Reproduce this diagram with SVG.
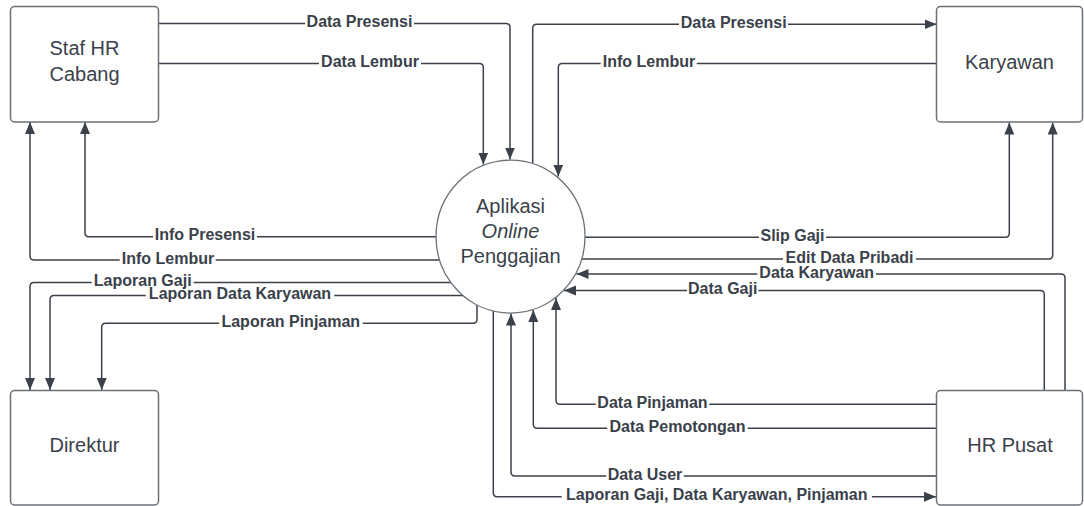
<svg xmlns="http://www.w3.org/2000/svg" width="1084" height="506" viewBox="0 0 1084 506">
<style>
.box{fill:#ffffff;stroke:#6c7179;stroke-width:1.5}
.ntext{font-family:"Liberation Sans",Arial,sans-serif;font-size:20px;fill:#3a414a;text-anchor:middle}
.c{fill:none;stroke:#3a414a;stroke-width:1.5}
.lbg{fill:#ffffff}
.lt{font-family:"Liberation Sans",Arial,sans-serif;font-size:16px;font-weight:bold;fill:#3a414a;text-anchor:middle}
</style>
<defs>
<marker id="ah" markerUnits="userSpaceOnUse" markerWidth="13" markerHeight="11" refX="12" refY="5" orient="auto">
<path d="M0,0 L12,5 L0,10 z" fill="#3a414a"/>
</marker>
</defs>
<rect width="1084" height="506" fill="#ffffff"/>

<g id="connectors">
<path class="c" d="M158.5,23.5 H506 Q510,23.5 510,27.5 V159.5" marker-end="url(#ah)"/>
<path class="c" d="M158.5,63.5 H479.3 Q483.3,63.5 483.3,67.5 V164.5" marker-end="url(#ah)"/>
<path class="c" d="M532.7,163.5 V28.3 Q532.7,24.3 536.7,24.3 H936.5" marker-end="url(#ah)"/>
<path class="c" d="M936.5,63.5 H562.3 Q558.3,63.5 558.3,67.5 V176.5" marker-end="url(#ah)"/>
<path class="c" d="M436,236.7 H89 Q85,236.7 85,232.7 V122" marker-end="url(#ah)"/>
<path class="c" d="M439.6,260 H34 Q30,260 30,256 V122" marker-end="url(#ah)"/>
<path class="c" d="M451,282.5 H34 Q30,282.5 30,286.5 V390" marker-end="url(#ah)"/>
<path class="c" d="M463,295.5 H54 Q50,295.5 50,299.5 V390" marker-end="url(#ah)"/>
<path class="c" d="M477,304.8 V319.3 Q477,323.3 473,323.3 H105.7 Q101.7,323.3 101.7,327.3 V390" marker-end="url(#ah)"/>
<path class="c" d="M585,237.3 H1005.3 Q1009.3,237.3 1009.3,233.3 V122.5" marker-end="url(#ah)"/>
<path class="c" d="M581.7,259 H1048.7 Q1052.7,259 1052.7,255 V122.5" marker-end="url(#ah)"/>
<path class="c" d="M1065,390.5 V278 Q1065,274 1061,274 H576.5" marker-end="url(#ah)"/>
<path class="c" d="M1044.3,390.5 V294.6 Q1044.3,290.6 1040.3,290.6 H564" marker-end="url(#ah)"/>
<path class="c" d="M936.5,404.3 H560 Q556,404.3 556,400.3 V298" marker-end="url(#ah)"/>
<path class="c" d="M936.5,428.3 H537.3 Q533.3,428.3 533.3,424.3 V310" marker-end="url(#ah)"/>
<path class="c" d="M936.5,476 H515 Q511,476 511,472 V313.5" marker-end="url(#ah)"/>
<path class="c" d="M493.3,311 V492.7 Q493.3,496.7 497.3,496.7 H936" marker-end="url(#ah)"/>

<rect class="lbg" x="305" y="20" width="109" height="7"/>
<text class="lt" x="359.5" y="27">Data Presensi</text>
<rect class="lbg" x="319" y="60" width="102" height="7"/>
<text class="lt" x="370" y="67">Data Lembur</text>
<rect class="lbg" x="679" y="20.8" width="109" height="7"/>
<text class="lt" x="733.7" y="27.8">Data Presensi</text>
<rect class="lbg" x="600.7" y="60" width="96" height="7"/>
<text class="lt" x="649" y="67">Info Lembur</text>
<rect class="lbg" x="153" y="233.2" width="104" height="7"/>
<text class="lt" x="205" y="240.2">Info Presensi</text>
<rect class="lbg" x="119.7" y="256.5" width="96" height="7"/>
<text class="lt" x="168" y="263.5">Info Lembur</text>
<rect class="lbg" x="91.7" y="279" width="102" height="7"/>
<text class="lt" x="142.7" y="286">Laporan Gaji</text>
<rect class="lbg" x="145.7" y="292" width="188.6" height="7"/>
<text class="lt" x="240" y="299">Laporan Data Karyawan</text>
<rect class="lbg" x="219" y="319.8" width="143.7" height="7"/>
<text class="lt" x="290.8" y="326.8">Laporan Pinjaman</text>
<rect class="lbg" x="759" y="233.8" width="67" height="7"/>
<text class="lt" x="792.5" y="240.8">Slip Gaji</text>
<rect class="lbg" x="783" y="255.5" width="133" height="7"/>
<text class="lt" x="849.5" y="262.5">Edit Data Pribadi</text>
<rect class="lbg" x="757.3" y="270.5" width="118.7" height="7"/>
<text class="lt" x="816.7" y="277.5">Data Karyawan</text>
<rect class="lbg" x="687" y="287.1" width="71.3" height="7"/>
<text class="lt" x="722.7" y="294.1">Data Gaji</text>
<rect class="lbg" x="595.7" y="400.8" width="113.6" height="7"/>
<text class="lt" x="652.5" y="407.8">Data Pinjaman</text>
<rect class="lbg" x="607.3" y="424.8" width="140.4" height="7"/>
<text class="lt" x="677.5" y="431.8">Data Pemotongan</text>
<rect class="lbg" x="606.3" y="472.5" width="77.4" height="7"/>
<text class="lt" x="645" y="479.5">Data User</text>
<rect class="lbg" x="561.7" y="493.2" width="310.3" height="7"/>
<text class="lt" x="716.8" y="500.2">Laporan Gaji, Data Karyawan, Pinjaman</text>
</g>

<g id="staf-hr-cabang">
<rect class="box" x="10.5" y="6.5" width="148" height="115.5" rx="4"/>
<text class="ntext" x="84.5" y="55">Staf HR</text>
<text class="ntext" x="84.5" y="80.5">Cabang</text>
</g>
<g id="karyawan">
<rect class="box" x="936.5" y="6.5" width="146" height="115.5" rx="4"/>
<text class="ntext" x="1009.5" y="68.5">Karyawan</text>
</g>
<g id="direktur">
<rect class="box" x="10.5" y="390.5" width="148" height="114.5" rx="4"/>
<text class="ntext" x="84.5" y="451.7">Direktur</text>
</g>
<g id="hr-pusat">
<rect class="box" x="936.5" y="390.5" width="146" height="114.5" rx="4"/>
<text class="ntext" x="1010" y="451.7">HR Pusat</text>
</g>
<g id="aplikasi-online-penggajian">
<ellipse cx="510.5" cy="236.6" rx="74.5" ry="76.5" fill="#ffffff" stroke="#6c7179" stroke-width="1.3"/>
<text class="ntext" x="510.5" y="213.3">Aplikasi</text>
<text class="ntext" x="510.5" y="238.3" font-style="italic">Online</text>
<text class="ntext" x="510.5" y="263.3">Penggajian</text>
</g>
</svg>
